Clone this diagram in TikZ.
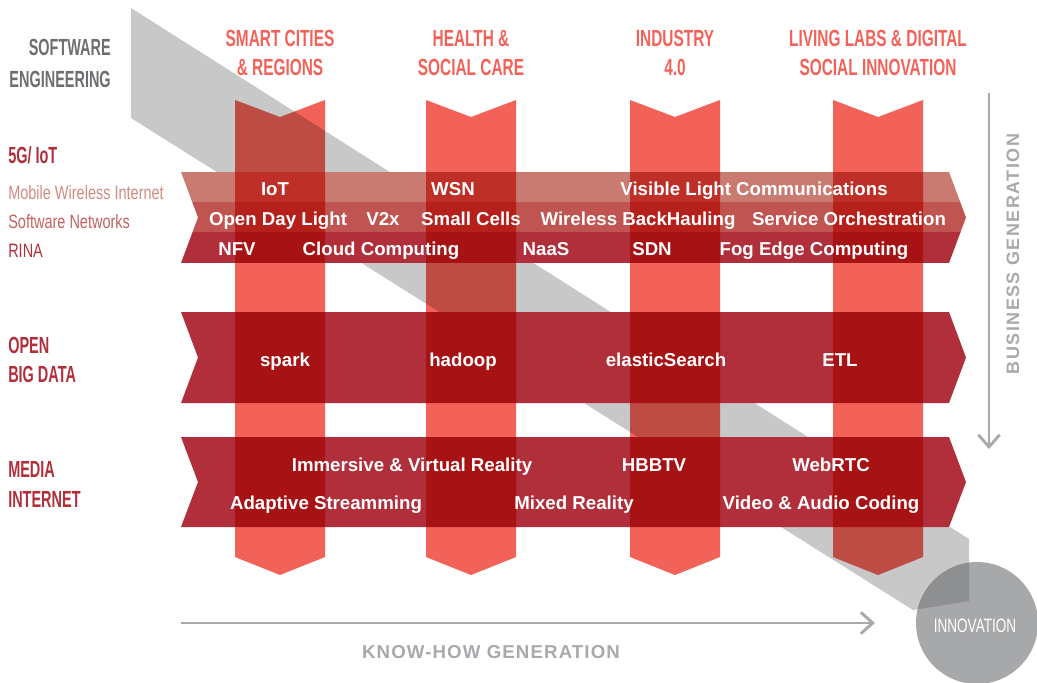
\documentclass[tikz,border=0pt]{standalone}
\usepackage{fontspec}
\setmainfont{Liberation Sans}
\newfontfamily\headfont[FakeStretch=0.66]{Liberation Sans}
\newfontfamily\fieldfont[FakeStretch=0.62]{Liberation Sans}
\newfontfamily\labelfont[FakeStretch=0.75]{Liberation Sans}
\newfontfamily\innofont[FakeStretch=0.7]{Liberation Sans}
\newfontfamily\axisfont[LetterSpace=6]{Liberation Sans}
\newfontfamily\busfont[LetterSpace=8]{Liberation Sans}
\usetikzlibrary{arrows.meta}

\definecolor{pillar}{HTML}{F26259}
\definecolor{diag}{HTML}{C8C8C8}
\definecolor{bandlight}{HTML}{C97B72}
\definecolor{bandmid}{HTML}{C05450}
\definecolor{banddark}{HTML}{B02F3A}
\definecolor{labellight}{HTML}{D08A82}
\definecolor{labelmid}{HTML}{C4625C}
\definecolor{swgray}{HTML}{6D6E71}
\definecolor{axisgray}{HTML}{A7A9AC}
\definecolor{innogray}{HTML}{626366}

% banda orizzontale a freccia, #1 = bordo alto, #2 = bordo basso
\newcommand{\bandshape}[2]{(181,#1) -- (949,#1) -- (966,{(#1+#2)/2}) -- (949,#2) -- (181,#2) -- (198,{(#1+#2)/2}) -- cycle}

\tikzset{
	item/.style={text=white, font=\bfseries\fontsize{14pt}{16pt}\selectfont, anchor=base, inner sep=0pt},
	pillartitle/.style={text=pillar, font=\headfont\bfseries\fontsize{17.5pt}{21.75pt}\selectfont, align=center, anchor=south, inner sep=0pt},
	field/.style={text=banddark, font=\fieldfont\bfseries\fontsize{17.5pt}{21pt}\selectfont, anchor=base west, inner sep=0pt},
	subfield/.style={font=\labelfont\fontsize{14.5pt}{17pt}\selectfont, anchor=base west, inner sep=0pt},
	genarrow/.style={draw=axisgray, line width=2.2pt, -{Straight Barb[length=9pt,width=16pt]}},
	genlabel/.style={text=axisgray, inner sep=0pt}
}

\begin{document}
\begin{tikzpicture}[x=0.75pt,y=-0.75pt]
	\useasboundingbox (0,0) rectangle (1037,682);

	% Fascia diagonale grigia
	\fill[diag] (131,8) -- (969,539) -- (969,601) -- (913,610) -- (131,118) -- cycle;

	% Bande orizzontali
	\begin{scope}
		\clip \bandshape{172}{263};
		\fill[bandlight] (181,172) rectangle (966,202);
		\fill[bandmid] (181,202) rectangle (966,232);
		\fill[banddark] (181,232) rectangle (966,263);
	\end{scope}
	\fill[banddark] \bandshape{312}{403};
	\fill[banddark] \bandshape{437}{527};

	% Colonne verticali (moltiplicate sul resto)
	\begin{scope}[blend mode=multiply]
		\foreach \c in {280,471,675,878}
			\fill[pillar] (\c-45,100) -- (\c,117) -- (\c+45,100) -- (\c+45,557) -- (\c,575) -- (\c-45,557) -- cycle;
	\end{scope}

	% Cerchio innovazione
	\fill[innogray, fill opacity=0.56] (977,623) circle[radius=61];
	\node[text=white, font=\innofont\fontsize{14.5pt}{17pt}\selectfont, anchor=base, inner sep=0pt] (innovation) at (975,632) {INNOVATION};

	% Titoli delle colonne
	\node[pillartitle] (smart) at (280,76) {SMART CITIES\\\& REGIONS};
	\node[pillartitle] (health) at (471,76) {HEALTH \&\\SOCIAL CARE};
	\node[pillartitle] (industry) at (675,76) {INDUSTRY\\4.0};
	\node[pillartitle] (living) at (878,76) {LIVING LABS \& DIGITAL\\SOCIAL INNOVATION};

	% Etichette a sinistra
	\node[field, text=swgray, anchor=base east] (software) at (111,55) {SOFTWARE};
	\node[field, text=swgray, anchor=base east] (engineering) at (111,87) {ENGINEERING};
	\node[field] (fiveg) at (8,163) {5G/ IoT};
	\node[subfield, text=labellight] (mobile) at (8,199) {Mobile Wireless Internet};
	\node[subfield, text=labelmid] (swnet) at (8,228) {Software Networks};
	\node[subfield, text=banddark] (rina) at (8,257) {RINA};
	\node[field] (open) at (8,353) {OPEN};
	\node[field] (bigdata) at (8,382) {BIG DATA};
	\node[field] (media) at (8,477) {MEDIA};
	\node[field] (internet) at (8,507) {INTERNET};

	% Voci dentro le bande
	\foreach \x/\y/\t [count=\i] in {275/195/IoT, 453/195/WSN, 754/195/Visible Light Communications,
			278/225/Open Day Light, 383/225/V2x, 471/225/Small Cells, 638/225/Wireless BackHauling, 849/225/Service Orchestration,
			237/255/NFV, 381/255/Cloud Computing, 546/255/NaaS, 652/255/SDN, 814/255/Fog Edge Computing,
			285/366/spark, 463/366/hadoop, 666/366/elasticSearch, 840/366/ETL,
			412/471/Immersive \& Virtual Reality, 654/471/HBBTV, 831/471/WebRTC,
			326/509/Adaptive Streamming, 574/509/Mixed Reality, 821/509/Video \& Audio Coding}
		\node[item] (item\i) at (\x,\y) {\t};

	% Assi
	\coordinate (kstart) at (181,623);
	\coordinate (kend) at (875,623);
	\draw[genarrow] (kstart) -- (kend);
	\node[genlabel, font=\axisfont\bfseries\fontsize{14pt}{16pt}\selectfont, anchor=base] (knowhow) at (491,658) {KNOW-HOW GENERATION};

	\coordinate (bstart) at (989,93);
	\coordinate (bend) at (989,449);
	\draw[genarrow] (bstart) -- (bend);
	\node[genlabel, font=\busfont\bfseries\fontsize{13.5pt}{16pt}\selectfont, rotate=90] (business) at (1013,254) {BUSINESS GENERATION};
\end{tikzpicture}
\end{document}
